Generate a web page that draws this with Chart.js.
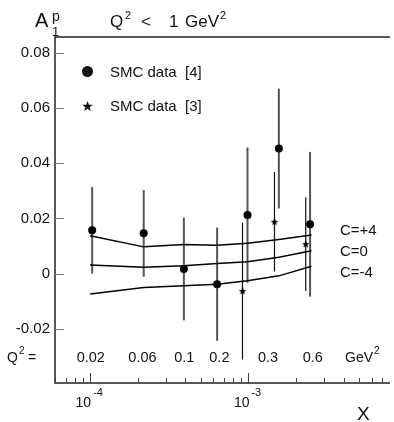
<html>
  <head>
    <title>A1p low Q2</title>
    <script type="text/javascript" src="https://cdn.jsdelivr.net/npm/chart.js@4/dist/chart.umd.min.js"></script>
    <style>body { margin: 0; background: #fff; }</style>
  </head>
  <body>
    <canvas id="a1pChart" width="394" height="422" style="display: block;"></canvas>
    <script>
      // SMC data [4]
      var xSMC4 = [1.03e-4, 2.18e-4, 3.91e-4, 6.34e-4, 9.86e-4, 1.556e-3, 2.45e-3];
      var aSMC4 = [0.0157, 0.0146, 0.0017, -0.0038, 0.0212, 0.0453, 0.0179];
      var eSMC4 = [0.0157, 0.0157, 0.0186, 0.0205, 0.0245, 0.0217, 0.0262];
      // SMC data [3]
      var xSMC3 = [9.17e-4, 1.46e-3, 2.30e-3];
      var aSMC3 = [-0.0063, 0.0188, 0.0107];
      var eSMC3 = [0.0248, 0.0180, 0.0170];
      // model curves
      var xCurve = [1.0e-4, 2.18e-4, 3.91e-4, 6.34e-4, 9.86e-4, 1.556e-3, 2.5e-3];
      var cPlus4 = [0.0137, 0.0097, 0.0106, 0.0103, 0.0110, 0.0124, 0.0140];
      var cZero = [0.0031, 0.0023, 0.0029, 0.0037, 0.0043, 0.0059, 0.0083];
      var cMinus4 = [-0.0074, -0.0050, -0.0044, -0.0038, -0.0026, -0.0008, 0.0027];
      // Q2 row under the points
      var q2Labels = ['0.02', '0.06', '0.1', '0.2', '0.3', '0.6'];
      var q2X = [1.01e-4, 2.14e-4, 3.93e-4, 6.55e-4, 1.33e-3, 2.55e-3];
      var yTicks = [-0.02, 0, 0.02, 0.04, 0.06, 0.08];

      var FONT = "'Liberation Sans', Arial, sans-serif";

      function pts(xs, ys) {
        return xs.map(function(x, i) { return {x: x, y: ys[i]}; });
      }

      function starPath(c, cx, cy, R) {
        var r = R * 0.42;
        c.beginPath();
        for (var i = 0; i < 10; i++) {
          var rad = i % 2 ? r : R;
          var a = -Math.PI / 2 + i * Math.PI / 5;
          c.lineTo(cx + rad * Math.cos(a), cy + rad * Math.sin(a));
        }
        c.closePath();
        c.fill();
      }

      var starImg = document.createElement('canvas');
      starImg.width = 10; starImg.height = 10;
      var sctx = starImg.getContext('2d');
      sctx.fillStyle = '#000';
      starPath(sctx, 5, 5.3, 4);

      function txt(c, s, x, y, size, align) {
        c.font = size + 'px ' + FONT;
        c.textAlign = align || 'left';
        c.fillText(s, x, y);
        return c.measureText(s).width;
      }

      var errorBars = {
        id: 'errorBars',
        beforeDatasetsDraw: function(chart) {
          var c = chart.ctx, xs = chart.scales.x, ys = chart.scales.y;
          c.save();
          c.strokeStyle = '#555'; c.lineWidth = 2;
          xSMC4.forEach(function(x, i) {
            var px = xs.getPixelForValue(x);
            c.beginPath();
            c.moveTo(px, ys.getPixelForValue(aSMC4[i] + eSMC4[i]));
            c.lineTo(px, ys.getPixelForValue(aSMC4[i] - eSMC4[i]));
            c.stroke();
          });
          c.strokeStyle = '#111'; c.lineWidth = 1.2;
          xSMC3.forEach(function(x, i) {
            var px = xs.getPixelForValue(x);
            c.beginPath();
            c.moveTo(px, ys.getPixelForValue(aSMC3[i] + eSMC3[i]));
            c.lineTo(px, ys.getPixelForValue(aSMC3[i] - eSMC3[i]));
            c.stroke();
          });
          c.restore();
        }
      };

      var frameAndText = {
        id: 'frameAndText',
        afterDraw: function(chart) {
          var c = chart.ctx, a = chart.chartArea;
          var xs = chart.scales.x, ys = chart.scales.y;
          c.save();
          // frame: left, top, bottom
          c.strokeStyle = '#222'; c.lineWidth = 1.5;
          c.beginPath();
          c.moveTo(a.right + 1, a.top); c.lineTo(a.left, a.top);
          c.lineTo(a.left, a.bottom); c.lineTo(a.right + 1, a.bottom);
          c.stroke();

          // y ticks, inward
          c.strokeStyle = '#777'; c.lineWidth = 1;
          yTicks.forEach(function(v) {
            var py = Math.round(ys.getPixelForValue(v)) + 0.5;
            c.beginPath(); c.moveTo(a.left, py); c.lineTo(a.left + 9, py); c.stroke();
          });

          // x ticks, log
          c.strokeStyle = '#444';
          for (var e = -5; e <= -3; e++) {
            for (var m = 1; m <= 9; m++) {
              var v = m * Math.pow(10, e);
              if (v < xs.min || v > xs.max) continue;
              var px = Math.round(xs.getPixelForValue(v)) + 0.5;
              var len = m === 1 ? 10 : 5;
              c.beginPath(); c.moveTo(px, a.bottom); c.lineTo(px, a.bottom - len); c.stroke();
            }
          }

          c.fillStyle = '#111';
          c.textBaseline = 'alphabetic';
          // x tick labels 10^-4, 10^-3
          [[1e-4, '-4'], [1e-3, '-3']].forEach(function(t) {
            var px = xs.getPixelForValue(t[0]);
            txt(c, '10', px + 1, 407, 14, 'right');
            txt(c, t[1], px + 3, 396, 11);
          });
          txt(c, 'X', 357, 420, 19);

          // title
          txt(c, 'A', 35, 27, 20);
          txt(c, 'p', 52, 21, 14);
          txt(c, '1', 52, 36, 13);
          txt(c, 'Q', 110, 27, 17);
          txt(c, '2', 125, 19, 11);
          txt(c, '<', 141, 27, 17);
          txt(c, '1', 169, 27, 17);
          var gw = txt(c, 'GeV', 185, 27, 17);
          txt(c, '2', 186 + gw, 19, 11);

          // legend
          c.beginPath(); c.arc(87.5, 71.5, 5.5, 0, 2 * Math.PI); c.fill();
          txt(c, 'SMC data  [4]', 110, 77, 15);
          starPath(c, 87.5, 106.5, 5.5);
          txt(c, 'SMC data  [3]', 110, 111, 15);

          // curve labels
          txt(c, 'C=+4', 340, 235, 15);
          txt(c, 'C=0', 340, 256, 15);
          txt(c, 'C=-4', 340, 277, 15);

          // Q2 row
          txt(c, 'Q', 7, 362, 14);
          txt(c, '2', 19, 354, 10);
          txt(c, '=', 28, 362, 14);
          q2Labels.forEach(function(s, i) {
            txt(c, s, xs.getPixelForValue(q2X[i]), 362, 14.5, 'center');
          });
          var w = txt(c, 'GeV', 345, 362, 14);
          txt(c, '2', 346 + w, 354, 10);
          c.restore();
        }
      };

      var lineStyle = {
        type: 'line', borderColor: '#000', borderWidth: 1.5,
        pointRadius: 0, tension: 0, fill: false
      };

      var ctx = document.getElementById('a1pChart').getContext('2d');
      var chart = new Chart(ctx, {
        type: 'scatter',
        data: {
          datasets: [
            Object.assign({label: 'C=+4', data: pts(xCurve, cPlus4)}, lineStyle),
            Object.assign({label: 'C=0', data: pts(xCurve, cZero)}, lineStyle),
            Object.assign({label: 'C=-4', data: pts(xCurve, cMinus4)}, lineStyle),
            {
              label: 'SMC data [4]',
              data: pts(xSMC4, aSMC4),
              pointStyle: 'circle', pointRadius: 4,
              backgroundColor: '#000', borderColor: '#000', borderWidth: 0
            },
            {
              label: 'SMC data [3]',
              data: pts(xSMC3, aSMC3),
              pointStyle: starImg, pointRadius: 4
            }
          ]
        },
        options: {
          responsive: false,
          animation: false,
          layout: { padding: { top: 37, right: 1, bottom: 39, left: 0 } },
          plugins: { legend: { display: false }, tooltip: { enabled: false } },
          scales: {
            x: {
              type: 'logarithmic', display: false,
              min: 6e-5, max: 7.72e-3
            },
            y: {
              type: 'linear',
              min: -0.0396, max: 0.0857,
              afterFit: function(s) { s.width = 55; },
              afterBuildTicks: function(s) {
                s.ticks = yTicks.map(function(v) { return {value: v}; });
              },
              grid: { display: false, drawTicks: false },
              border: { display: false },
              ticks: {
                padding: 5, color: '#111',
                font: { family: FONT, size: 15 },
                callback: function(v) { return v === 0 ? '0' : v.toFixed(2); }
              }
            }
          }
        },
        plugins: [errorBars, frameAndText]
      });
    </script>
  </body>
</html>
